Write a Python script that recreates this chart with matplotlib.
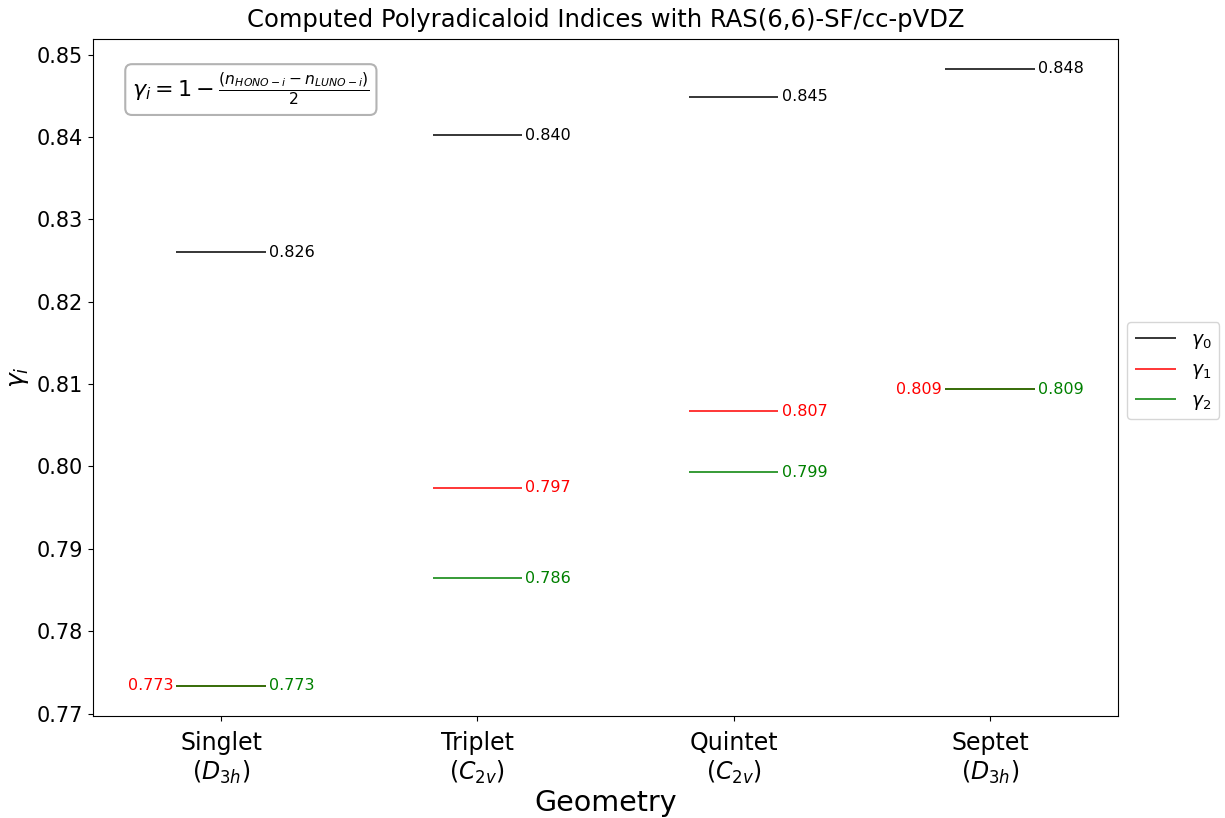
import numpy as np
import matplotlib
matplotlib.use('Agg')
import matplotlib.pyplot as plt

geometries = ['Singlet\n($D_{3h}$)', 'Triplet\n($C_{2v}$)', 'Quintet\n($C_{2v}$)', 'Septet\n($D_{3h}$)']
gamma_0 = [0.8260, 0.8402, 0.8449, 0.8483]
gamma_1 = [0.7734, 0.7974, 0.8067, 0.8094]
gamma_2 = [0.7734, 0.7864, 0.7993, 0.8094]

series = [(gamma_0, 'k', r'$\gamma_0$'),
          (gamma_1, 'r', r'$\gamma_1$'),
          (gamma_2, 'g', r'$\gamma_2$')]

half_width = 0.175
gap = 0.012

fig = plt.figure(figsize=(12.25, 8.18), dpi=100)
ax = fig.add_axes([0.0759, 0.1247, 0.8368, 0.8276])

x = np.arange(len(geometries))

for values, color, label in series:
    ax.hlines(values, x - half_width, x + half_width, colors=color, linewidth=1.1, label=label)

# value labels: right side by default, left side when two levels coincide
for i in x:
    g0, g1, g2 = gamma_0[i], gamma_1[i], gamma_2[i]
    ax.text(i + half_width + gap, g0, f'{g0:.3f}', color='k', fontsize=11.5, va='center', ha='left')
    if abs(g1 - g2) < 1e-9:
        ax.text(i - half_width - gap, g1, f'{g1:.3f}', color='r', fontsize=11.5, va='center', ha='right')
    else:
        ax.text(i + half_width + gap, g1, f'{g1:.3f}', color='r', fontsize=11.5, va='center', ha='left')
    ax.text(i + half_width + gap, g2, f'{g2:.3f}', color='g', fontsize=11.5, va='center', ha='left')

ax.set_xlim(-0.5, 3.5)
ax.set_ylim(0.7697, 0.8519)
ax.set_xticks(x)
ax.set_xticklabels(geometries, fontsize=17)
ax.tick_params(axis='x', pad=7)
yticks = np.arange(0.77, 0.8501, 0.01)
ax.set_yticks(yticks)
ax.set_yticklabels([f'{v:.2f}' for v in yticks], fontsize=15)

ax.set_title('Computed Polyradicaloid Indices with RAS(6,6)-SF/cc-pVDZ', fontsize=17.5, pad=9)
ax.set_xlabel('Geometry', fontsize=20.5, labelpad=2)
ax.set_ylabel(r'$\gamma_i$', fontsize=18)

ax.text(0.038, 0.953, r'$\gamma_i = 1 - \frac{(n_{HONO-i} - n_{LUNO-i})}{2}$',
        transform=ax.transAxes, fontsize=16, va='top', ha='left',
        bbox=dict(boxstyle='round,pad=0.3', facecolor='white', edgecolor='0.7', linewidth=1.5))

ax.legend(loc='center left', bbox_to_anchor=(1.0, 0.51), fontsize=13.5, handlelength=2.2)

plt.savefig('out.png', dpi=100)
